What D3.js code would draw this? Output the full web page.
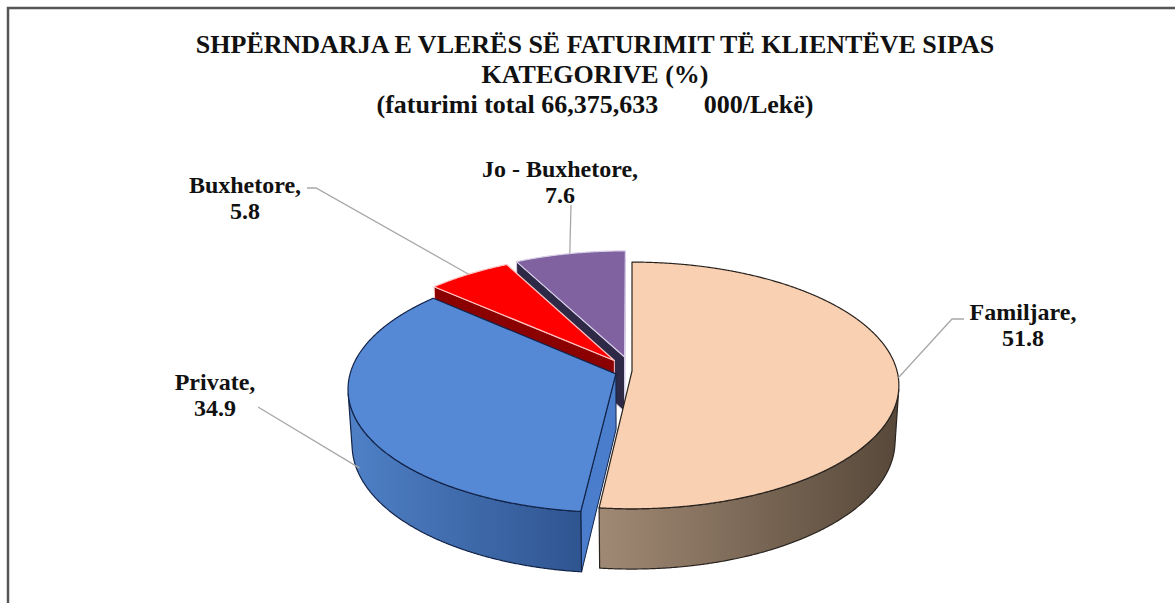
<!DOCTYPE html>
<html>
<head>
<meta charset="utf-8">
<script src="https://cdn.jsdelivr.net/npm/d3@7"></script>
<style>
  body { margin: 0; background: #fff; }
  svg { display: block; }
  text { font-family: "Liberation Serif", "Times New Roman", serif; font-weight: bold; fill: #111; }
</style>
</head>
<body>
<svg width="1175" height="603"></svg>
<script>
const categories = ["Familjare", "Private", "Buxhetore", "Jo - Buxhetore"];
const values = [51.8, 34.9, 5.8, 7.6];
const valueLabels = ["51.8", "34.9", "5.8", "7.6"];
const titleLines = [
  "SHPËRNDARJA E VLERËS SË FATURIMIT TË KLIENTËVE SIPAS",
  "KATEGORIVE (%)",
  "(faturimi total 66,375,633       000/Lekë)"
];

const svg = d3.select("svg");
const width = +svg.attr("width");
const height = +svg.attr("height");

// slice looks + how far each one is pulled out
const sliceStyle = [
  { top: "#f9d0b1", side0: "#a08974", side1: "#574839", face: "#7a6654", stroke: "#2a2420", explode: 0.0 },
  { top: "#5589d6", side0: "#4f80c6", side1: "#2f5590", face: "#4a7dcb", stroke: "#13244a", explode: 0.065 },
  { top: "#ff0000", side0: "#8b0000", side1: "#7a0000", face: "#8b0000", stroke: "#ffc4c4", explode: 0.11 },
  { top: "#8062a0", side0: "#2e2946", side1: "#2e2946", face: "#2e2946", stroke: "#d8cfe8", explode: 0.12 }
];

// label placement: text centre/baseline, leader start points near the text, z share of the side
const labelLayout = [
  { x: 1023, y: 320, lead: [[964, 319], [952, 319]], zf: 0 },
  { x: 215, y: 390, lead: [[258, 407]], zf: 0.85 },
  { x: 245, y: 193, lead: [[307, 188], [316, 188]], zf: 0 },
  { x: 560, y: 177, lead: [[571, 205]], zf: 0 }
];

// simple perspective camera for the tilted pie
const cam = { cx: 632, cy: 371, f: 2009, dist: 7.58, tilt: Math.asin(0.459), depth: 0.238 };
const sT = Math.sin(cam.tilt), cT = Math.cos(cam.tilt);

function project(x, y, z) {
  const v = y * sT + z * cT;
  const d = cam.dist + y * cT - z * sT;
  return [cam.cx + cam.f * x / d, cam.cy - cam.f * v / d];
}

const line = d3.line();
const closed = pts => line(pts) + "Z";

// frame
svg.append("rect")
  .attr("x", 8).attr("y", 8)
  .attr("width", width + 20).attr("height", height + 20)
  .attr("fill", "none")
  .attr("stroke", "#555")
  .attr("stroke-width", 2.5);

// title
const titleY = [53, 83, 113];
svg.selectAll(".title")
  .data(titleLines)
  .enter()
  .append("text")
  .attr("class", "title")
  .attr("x", 595)
  .attr("y", (d, i) => titleY[i])
  .attr("text-anchor", "middle")
  .style("font-size", "26px")
  .style("white-space", "pre")
  .text(d => d);

const defs = svg.append("defs");
sliceStyle.forEach((s, i) => {
  const grad = defs.append("linearGradient")
    .attr("id", "side" + i)
    .attr("x1", 0).attr("x2", 1).attr("y1", 0).attr("y2", 0);
  grad.append("stop").attr("offset", "0%").attr("stop-color", s.side0);
  grad.append("stop").attr("offset", "100%").attr("stop-color", s.side1);
});

const arcs = d3.pie().sort(null).value(d => d)(values);
const step = Math.PI / 720;
const h = cam.depth;

const slices = arcs.map((a, i) => {
  const mid = (a.startAngle + a.endAngle) / 2;
  const e = sliceStyle[i].explode;
  const ox = e * Math.sin(mid), oy = e * Math.cos(mid);
  return { a, i, mid, ox, oy, order: 0.6 * Math.cos(mid) + oy };
});

function rimPt(s, t, z) {
  return project(Math.sin(t) + s.ox, Math.cos(t) + s.oy, z);
}
function apexPt(s, z) {
  return project(s.ox, s.oy, z);
}
function angles(a0, a1) {
  const n = Math.max(2, Math.ceil((a1 - a0) / step));
  return d3.range(n + 1).map(k => a0 + (a1 - a0) * k / n);
}

const pieG = svg.append("g");

slices.slice().sort((p, q) => q.order - p.order).forEach(s => {
  const st = sliceStyle[s.i];
  const g = pieG.append("g");
  const a0 = s.a.startAngle, a1 = s.a.endAngle;

  // radial faces
  const k = cam.dist * cT + s.oy;
  const faces = [];
  if (s.ox * Math.cos(a0) - Math.sin(a0) * k > 1e-6) faces.push(a0);
  if (-s.ox * Math.cos(a1) + Math.sin(a1) * k > 1e-6) faces.push(a1);
  faces.forEach(t => {
    g.append("path")
      .attr("d", closed([apexPt(s, 0), rimPt(s, t, 0), rimPt(s, t, -h), apexPt(s, -h)]))
      .attr("fill", st.face)
      .attr("stroke", st.stroke)
      .attr("stroke-width", 1)
      .attr("stroke-linejoin", "round");
  });

  // outer wall, only the part turned to the viewer
  const vis = angles(a0, a1).filter(t =>
    -1 - s.ox * Math.sin(t) - Math.cos(t) * k > 0);
  if (vis.length > 1) {
    const pts = vis.map(t => rimPt(s, t, 0))
      .concat(vis.slice().reverse().map(t => rimPt(s, t, -h)));
    g.append("path")
      .attr("d", closed(pts))
      .attr("fill", `url(#side${s.i})`)
      .attr("stroke", st.stroke)
      .attr("stroke-width", 1.2)
      .attr("stroke-linejoin", "round");
  }

  // top
  const top = [apexPt(s, 0)].concat(angles(a0, a1).map(t => rimPt(s, t, 0)));
  g.append("path")
    .attr("d", closed(top))
    .attr("fill", st.top)
    .attr("stroke", st.stroke)
    .attr("stroke-width", 1.2)
    .attr("stroke-linejoin", "round");
});

// leader lines
slices.forEach(s => {
  const L = labelLayout[s.i];
  const anchor = rimPt(s, s.mid, -h * L.zf);
  svg.append("path")
    .attr("d", line(L.lead.concat([anchor])))
    .attr("fill", "none")
    .attr("stroke", "#a8a8a8")
    .attr("stroke-width", 1.3);
});

// labels
const lab = svg.selectAll(".label")
  .data(slices)
  .enter()
  .append("text")
  .attr("class", "label")
  .attr("text-anchor", "middle")
  .style("font-size", "24px");
lab.append("tspan")
  .attr("x", d => labelLayout[d.i].x)
  .attr("y", d => labelLayout[d.i].y)
  .text(d => categories[d.i] + ",");
lab.append("tspan")
  .attr("x", d => labelLayout[d.i].x)
  .attr("y", d => labelLayout[d.i].y + 26)
  .text(d => valueLabels[d.i]);
</script>
</body>
</html>
